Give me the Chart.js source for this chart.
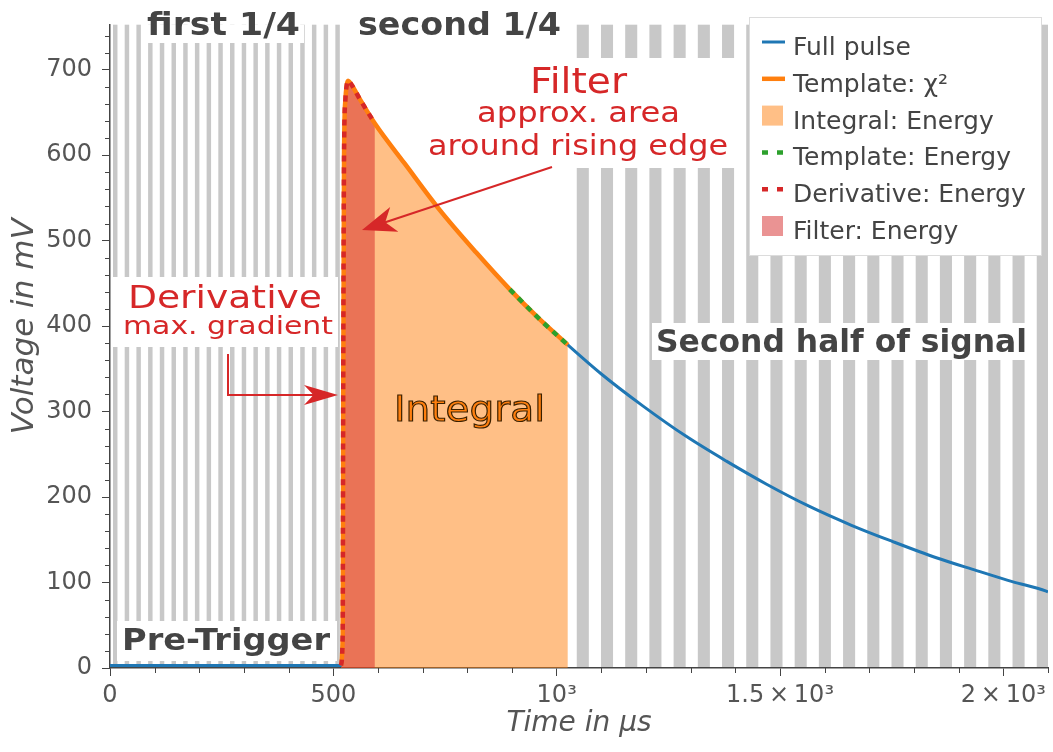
<!DOCTYPE html>
<html>
<head>
<meta charset="utf-8">
<script src="https://cdn.jsdelivr.net/npm/chart.js@4.4.0/dist/chart.umd.min.js"></script>
<style>
  body { margin: 0; background: #fff; }
  canvas { display: block; }
</style>
</head>
<body>
<canvas id="pulse" width="1053" height="752"></canvas>
<script>
// pulse (time in µs, voltage in mV)
const pulseTime = [0, 100, 200, 300, 400, 500, 517, 521, 522, 524, 527, 530, 533, 540, 560, 593,
  660, 738, 820, 895, 960, 1025, 1100, 1192, 1290, 1380, 1470, 1566, 1660, 1752, 1850, 1940, 2020, 2096, 2100];
const pulseVolt = [3, 3, 3, 3, 3, 3, 3, 40, 300, 600, 665, 682, 687, 683, 665, 637,
  590, 536, 486, 443, 409, 378, 344, 307, 271, 242, 215, 189, 167, 148, 129, 114, 101, 90, 89];

// time windows of the highlighted parts
const templateChiRange = [517, 1025];
const integralRange = [517, 1025];
const templateEnergyRange = [895, 1025];
const derivativeRange = [517, 593];
const filterRange = [517, 593];

const seriesNames = ['Full pulse', 'Template: χ²', 'Integral: Energy', 'Template: Energy', 'Derivative: Energy', 'Filter: Energy'];

const xTicks = [0, 500, 1000, 1500, 2000];
const xTickLabels = ['0', '500', '10³', '1.5\u2009×\u200910³', '2\u2009×\u200910³'];

const halfEnd = 1050;

const RED = '#d62728';
const DARK = '#444';
const FONT = "'DejaVu Sans', Verdana, sans-serif";

function pts(range) {
  const out = [];
  pulseTime.forEach((t, i) => {
    if (t >= range[0] && t <= range[1]) out.push({ x: t, y: pulseVolt[i] });
  });
  return out;
}

Chart.defaults.font.family = FONT;

function fitText(ctx, text, left, right, baseline, font, color, stroke) {
  ctx.save();
  ctx.font = font;
  const w = ctx.measureText(text).width;
  const sx = (right - left) / w;
  ctx.translate(left, baseline);
  ctx.scale(sx, 1);
  ctx.textAlign = 'left';
  ctx.textBaseline = 'alphabetic';
  ctx.fillStyle = color;
  ctx.fillText(text, 0, 0);
  if (stroke) {
    ctx.lineWidth = 1.1;
    ctx.strokeStyle = stroke;
    ctx.strokeText(text, 0, 0);
  }
  ctx.restore();
}

function arrow(ctx, path, headLen, headHalf) {
  const n = path.length;
  const [tx, ty] = path[n - 1];
  const [px, py] = path[n - 2];
  const a = Math.atan2(ty - py, tx - px);
  ctx.save();
  ctx.strokeStyle = RED;
  ctx.fillStyle = RED;
  ctx.lineWidth = 2;
  ctx.beginPath();
  ctx.moveTo(path[0][0], path[0][1]);
  for (let i = 1; i < n - 1; i++) ctx.lineTo(path[i][0], path[i][1]);
  ctx.lineTo(tx - Math.cos(a) * headLen * 0.7, ty - Math.sin(a) * headLen * 0.7);
  ctx.stroke();
  ctx.translate(tx, ty);
  ctx.rotate(a);
  ctx.beginPath();
  ctx.moveTo(0, 0);
  ctx.lineTo(-headLen, -headHalf);
  ctx.lineTo(-headLen * 0.72, 0);
  ctx.lineTo(-headLen, headHalf);
  ctx.closePath();
  ctx.fill();
  ctx.restore();
}

const backdrop = {
  id: 'backdrop',
  beforeDraw(chart) {
    const { ctx, chartArea: ca, scales: { x } } = chart;
    ctx.save();
    ctx.beginPath();
    ctx.rect(ca.left, ca.top, ca.right - ca.left, ca.bottom - ca.top);
    ctx.clip();
    ctx.fillStyle = '#c8c8c8';
    // thin stripes: first quarter
    for (let k = 0; k < 20; k++) {
      const a = 6.7 + k * 26.2;
      const x0 = x.getPixelForValue(a), x1 = x.getPixelForValue(a + 10);
      ctx.fillRect(x0, ca.top, x1 - x0, ca.bottom - ca.top);
    }
    // wide stripes: second half
    for (let k = 0; k < 20; k++) {
      const a = halfEnd - 5 + k * 54.2;
      const x0 = x.getPixelForValue(a), x1 = x.getPixelForValue(a + 27);
      ctx.fillRect(x0, ca.top, x1 - x0, ca.bottom - ca.top);
    }
    // white boxes behind labels
    ctx.fillStyle = '#fff';
    ctx.fillRect(143, ca.top, 161, 43 - ca.top);
    ctx.fillRect(117, 621, 220, 40);
    ctx.fillRect(652, 323, 378, 37);
    ctx.fillRect(ca.left, 277, 338 - ca.left, 70);
    ctx.fillRect(424, 58, 312, 110);
    ctx.restore();
  },
  afterDatasetsDraw(chart) {
    const { ctx } = chart;
    const bold = (s) => `bold ${s}px ${FONT}`;
    const reg = (s) => `${s}px ${FONT}`;
    fitText(ctx, 'first 1/4', 147, 300, 35, bold(32), DARK);
    fitText(ctx, 'second 1/4', 358, 561, 35, bold(32), DARK);
    fitText(ctx, 'Pre-Trigger', 122, 330, 650, bold(30), DARK);
    fitText(ctx, 'Second half of signal', 656, 1027, 352, bold(32), DARK);
    fitText(ctx, 'Derivative', 128, 322, 308, reg(32), RED);
    fitText(ctx, 'max. gradient', 123, 333, 334, reg(25), RED);
    fitText(ctx, 'Filter', 530, 627, 93, reg(36), RED);
    fitText(ctx, 'approx. area', 477, 680, 122, reg(28), RED);
    fitText(ctx, 'around rising edge', 428, 728, 155, reg(28), RED);
    fitText(ctx, 'Integral', 394, 545, 421, reg(36), '#ff7f0e', '#3a2000');
    arrow(ctx, [[228, 354], [228, 395], [338, 395]], 34, 10);
    arrow(ctx, [[552, 167], [362, 230]], 34, 13);
  },
  afterDraw(chart) {
    const { ctx, chartArea: ca, scales: { x, y } } = chart;
    ctx.save();
    // minor ticks
    ctx.strokeStyle = DARK;
    ctx.lineWidth = 1;
    ctx.beginPath();
    for (let v = 20; v < 753; v += 20) {
      if (v % 100 === 0) continue;
      const py = Math.round(y.getPixelForValue(v)) + 0.5;
      ctx.moveTo(ca.left - 5, py); ctx.lineTo(ca.left, py);
    }
    for (let v = 100; v <= 2100; v += 100) {
      if (v % 500 === 0) continue;
      const px = Math.round(x.getPixelForValue(v)) + 0.5;
      ctx.moveTo(px, ca.bottom); ctx.lineTo(px, ca.bottom + 5);
    }
    ctx.stroke();

    // legend inside the plot
    const lx = 749, ly = 17, lw = 292, lh = 238;
    ctx.fillStyle = '#fff';
    ctx.fillRect(lx, ly, lw, lh);
    ctx.strokeStyle = '#dcdcdc';
    ctx.lineWidth = 1;
    ctx.strokeRect(lx + 0.5, ly + 0.5, lw, lh);
    ctx.font = `25px ${FONT}`;
    ctx.textBaseline = 'alphabetic';
    chart.data.datasets.forEach((ds, i) => {
      const cy = 42 + i * 36.8;
      const sx = 762, ex = 785;
      if (ds.fill) {
        ctx.fillStyle = ds.backgroundColor;
        ctx.fillRect(sx, cy - 10, 21, 20);
      } else {
        ctx.strokeStyle = ds.borderColor;
        ctx.lineWidth = ds.borderWidth;
        ctx.setLineDash(ds.borderDash ? [6, 9] : []);
        ctx.beginPath();
        ctx.moveTo(sx, cy); ctx.lineTo(ex, cy);
        ctx.stroke();
        ctx.setLineDash([]);
      }
      ctx.fillStyle = DARK;
      ctx.fillText(seriesNames[i], 793, cy + 13);
    });
    ctx.restore();
  }
};

new Chart(document.getElementById('pulse'), {
  type: 'line',
  data: {
    datasets: [
      { label: seriesNames[0], data: pts([0, 2100]), borderColor: '#1f77b4', borderWidth: 3, order: 3 },
      { label: seriesNames[1], data: pts(templateChiRange), borderColor: '#ff7f0e', borderWidth: 4.5, order: 2 },
      { label: seriesNames[2], data: pts(integralRange), fill: 'origin', borderWidth: 0,
        borderColor: 'rgba(0,0,0,0)', backgroundColor: 'rgba(255,127,14,0.5)', order: 5 },
      { label: seriesNames[3], data: pts(templateEnergyRange), borderColor: '#2ca02c', borderWidth: 4.5,
        borderDash: [6, 6], order: 1 },
      { label: seriesNames[4], data: pts(derivativeRange), borderColor: RED, borderWidth: 4.5,
        borderDash: [6, 6], order: 0 },
      { label: seriesNames[5], data: pts(filterRange), fill: 'origin', borderWidth: 0,
        borderColor: 'rgba(0,0,0,0)', backgroundColor: 'rgba(214,39,40,0.5)', order: 4 }
    ]
  },
  options: {
    responsive: false,
    animation: false,
    devicePixelRatio: 1,
    layout: { padding: { top: 8, right: 5, bottom: 6, left: 6 } },
    elements: {
      point: { radius: 0 },
      line: { cubicInterpolationMode: 'monotone' }
    },
    plugins: { legend: { display: false }, tooltip: { enabled: false } },
    scales: {
      x: {
        type: 'linear', min: 0, max: 2100,
        afterBuildTicks: (s) => { s.ticks = xTicks.map(v => ({ value: v })); },
        afterFit: (s) => { s.height = 78; },
        ticks: {
          callback: (v) => xTickLabels[xTicks.indexOf(v)],
          font: { size: 24 }, color: '#555', maxRotation: 0, autoSkip: false, padding: 5
        },
        grid: { drawOnChartArea: false, tickLength: 8, color: DARK },
        border: { color: DARK, width: 1.5 },
        title: { display: true, text: 'Time in μs', color: '#555',
          font: { size: 28, style: 'italic' }, padding: { top: 0, bottom: 5 } }
      },
      y: {
        min: 0, max: 753,
        afterFit: (s) => { s.width = 104; },
        ticks: { stepSize: 100, includeBounds: false, font: { size: 24 }, color: '#555', padding: 10 },
        grid: { drawOnChartArea: false, tickLength: 8, color: DARK },
        border: { color: DARK, width: 1.5 },
        title: { display: true, text: '    Voltage in mV', color: '#555',
          font: { size: 31, style: 'italic' }, padding: { top: 0, bottom: 2 } }
      }
    }
  },
  plugins: [backdrop]
});
</script>
</body>
</html>
